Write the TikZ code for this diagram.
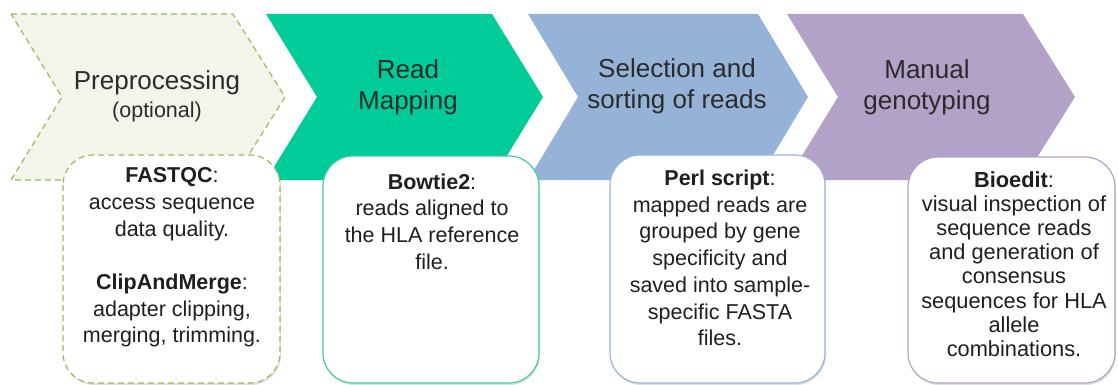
\documentclass[tikz,border=0pt]{standalone}
\usepackage{fontspec}
\setmainfont{Liberation Sans}
\usetikzlibrary{shadows}
\definecolor{chAfill}{HTML}{F2F5EA}
\definecolor{chAline}{HTML}{9BBB59}
\definecolor{chB}{HTML}{00CC99}
\definecolor{chC}{HTML}{95B3D7}
\definecolor{chD}{HTML}{B3A2C7}
\definecolor{boxB}{HTML}{3DCFA3}
\definecolor{txtgray}{HTML}{2B2B2B}
\tikzset{
  chevtext/.style={text=txtgray, align=center, font=\fontsize{26}{31}\selectfont},
  subtext/.style={text=txtgray, align=center, font=\fontsize{21.5}{26}\selectfont},
  boxbase/.style={fill=white, rounded corners=30pt, line width=1.2pt,
     drop shadow={opacity=0.25, shadow xshift=1pt, shadow yshift=-2pt}},
  boxtext/.style={text=black!88, align=center, font=\fontsize{21.5}{26.7}\selectfont},
}
\begin{document}
\begin{tikzpicture}[x=1pt,y=-1pt]
\useasboundingbox (0,0) rectangle (1118,385);
% chevrons
\draw[fill=chAfill, draw=chAline, line width=1.2pt, dash pattern=on 6pt off 4pt]
  (11,14) -- (233,14) -- (285,97) -- (233,180) -- (11,180) -- (62,97) -- cycle;
\fill[chB] (266,14) -- (492,14) -- (543,97) -- (492,180) -- (266,180) -- (317,97) -- cycle;
\fill[chC] (528,14) -- (758,14) -- (808,97) -- (758,180) -- (528,180) -- (578,97) -- cycle;
\fill[chD] (787,14) -- (1023,14) -- (1075,97) -- (1023,180) -- (787,180) -- (838,97) -- cycle;
% chevron labels
\node[chevtext] (c1) at (157,83) {Preprocessing};
\node[subtext] (c1b) at (157,112) {(optional)};
\node[chevtext] (c2) at (408,87.5) {Read\\Mapping};
\node[chevtext] (c3) at (677,86) {Selection and\\sorting of reads};
\node[chevtext] (c4) at (927,87) {Manual\\genotyping};
% boxes
\draw[boxbase, draw=chAline, dash pattern=on 6pt off 4pt] (63,155) rectangle (280,383);
\draw[boxbase, draw=boxB] (323,156) rectangle (539,383);
\draw[boxbase, draw=chC] (610,155) rectangle (825,383);
\draw[boxbase, draw=chD] (908,157) rectangle (1115,383);
% box texts
\node[boxtext] (t1) at (172,257.5) {\textbf{FASTQC}:\\access sequence\\data quality.\\[26.7pt]\textbf{ClipAndMerge}:\\adapter clipping,\\merging, trimming.};
\node[boxtext] (t2) at (432,221.5) {\textbf{Bowtie2}:\\reads aligned to\\the HLA reference\\file.};
\node[boxtext] (t3) at (720,258) {\textbf{Perl script}:\\mapped reads are\\grouped by gene\\specificity and\\saved into sample-\\specific FASTA\\files.};
\node[boxtext, font=\fontsize{21.8}{24.2}\selectfont] (t4) at (1014,264) {\textbf{Bioedit}:\\visual inspection of\\sequence reads\\and generation of\\consensus\\sequences for HLA\\allele\\combinations.};
\end{tikzpicture}
\end{document}
